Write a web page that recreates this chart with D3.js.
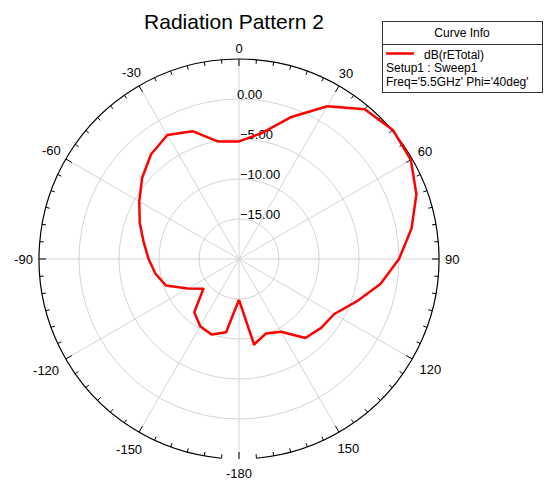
<!DOCTYPE html>
<html>
<head>
<meta charset="utf-8">
<script src="https://cdn.jsdelivr.net/npm/d3@7"></script>
<style>
  body { margin: 0; background: #fff; }
  text { font-family: "Liberation Sans", Arial, sans-serif; fill: #000; }
</style>
</head>
<body>
<script>
// data (theta in deg, gain in dB)
var thetaDeg = [-180, -170, -160, -150, -140, -130, -120, -110, -100, -90,
  -80, -70, -60, -50, -40, -30, -20, -10, 0, 10, 20, 30, 40, 50, 60, 70, 80,
  90, 100, 110, 120, 130, 140, 150, 160, 170, 180];
var gainDb = [-14.9, -10.7, -9.95, -10.3, -11.3, -14.2, -12.6, -10.3, -9.4, -8.7,
  -7.9, -6.8, -5.6, -4.2, -2.9, -2.1, -3.0, -5.1, -5.3, -4.05, -1.15, 2.05, 4.45, 5.1, 4.8, 3.6, 1.9,
  0.0, -2.05, -4.4, -6.25, -6.6, -7.1, -9.5, -10.1, -9.15, -14.9];

var angleTicks = [0, 30, 60, 90, 120, 150, 180, -150, -120, -90, -60, -30];
var angleLabels = ["0", "30", "60", "90", "120", "150", "-180", "-150", "-120", "-90", "-60", "-30"];
var radialTicks = [0, -5, -10, -15];
var legendLines = ["dB(rETotal)", "Setup1 : Sweep1", "Freq='5.5GHz' Phi='40deg'"];

var svgWidth = 544, svgHeight = 480;
var cx = 239, cy = 259, outerR = 200;

var svg = d3.select("body").append("svg")
    .attr("width", svgWidth)
    .attr("height", svgHeight);

// radius scale: -20 dB at centre, +5 dB on the rim
var rScale = d3.scaleLinear().domain([-20, 5]).range([0, outerR]);
var rad = d => d * Math.PI / 180;

var chart = svg.append("g").attr("transform", `translate(${cx}, ${cy})`);

// grid circles
chart.selectAll(".grid-circle")
    .data(radialTicks)
    .enter()
    .append("circle")
    .attr("r", d => rScale(d))
    .attr("fill", "none")
    .attr("stroke", "#d4d4d4")
    .attr("stroke-width", 1);

// spokes every 30 deg
chart.selectAll(".spoke")
    .data(angleTicks)
    .enter()
    .append("line")
    .attr("x1", 0).attr("y1", 0)
    .attr("x2", d => outerR * Math.sin(rad(d)))
    .attr("y2", d => -outerR * Math.cos(rad(d)))
    .attr("stroke", "#d4d4d4")
    .attr("stroke-width", 1);

// outer rim, open at the bottom
var rim = d3.arc()
    .innerRadius(outerR)
    .outerRadius(outerR)
    .startAngle(rad(-175))
    .endAngle(rad(175));
chart.append("path")
    .attr("d", rim())
    .attr("fill", "none")
    .attr("stroke", "#000")
    .attr("stroke-width", 1.2);

// rim ticks, every 5 deg, longer every 30
var rimTicks = d3.range(-175, 181, 5);
chart.selectAll(".rim-tick")
    .data(rimTicks)
    .enter()
    .append("line")
    .attr("x1", d => outerR * Math.sin(rad(d)))
    .attr("y1", d => -outerR * Math.cos(rad(d)))
    .attr("x2", d => (outerR - (d % 30 === 0 ? 7 : 4)) * Math.sin(rad(d)))
    .attr("y2", d => -(outerR - (d % 30 === 0 ? 7 : 4)) * Math.cos(rad(d)))
    .attr("stroke", "#000")
    .attr("stroke-width", 1);

// radial labels
chart.selectAll(".r-label")
    .data(radialTicks)
    .enter()
    .append("text")
    .attr("x", d => d < 0 ? 1 : -2)
    .attr("y", d => -rScale(d))
    .attr("font-size", 13)
    .text(d => d3.format(".2f")(d));

// angle labels
var angLabels = chart.selectAll(".a-label")
    .data(angleTicks)
    .enter()
    .append("text")
    .attr("font-size", 13)
    .attr("text-anchor", "middle")
    .attr("dy", "0.36em")
    .text((d, i) => angleLabels[i]);

angLabels.each(function(d) {
    var w = this.getComputedTextLength();
    var s = Math.sin(rad(d)), c = Math.cos(rad(d));
    var R = 206 + Math.abs(s) * w / 2 + Math.abs(c) * 5 + (c < -0.1 ? 3 : 0);
    d3.select(this).attr("x", R * s).attr("y", -R * c);
});

// the curve
var points = thetaDeg.map((t, i) => [rad(t), rScale(gainDb[i])]);
var line = d3.lineRadial()
    .angle(d => d[0])
    .radius(d => d[1]);

chart.append("path")
    .attr("d", line(points))
    .attr("fill", "none")
    .attr("stroke", "#ff0000")
    .attr("stroke-width", 2.5)
    .attr("stroke-linejoin", "round");

// title
svg.append("text")
    .attr("x", 234)
    .attr("y", 29)
    .attr("text-anchor", "middle")
    .attr("font-size", 21)
    .text("Radiation Pattern 2");

// legend box
var legend = svg.append("g").attr("transform", "translate(382, 21)");
legend.append("rect")
    .attr("x", 0.5).attr("y", 0.5)
    .attr("width", 160).attr("height", 71)
    .attr("fill", "#fff")
    .attr("stroke", "#333")
    .attr("stroke-width", 1);
legend.append("line")
    .attr("x1", 0.5).attr("x2", 160.5)
    .attr("y1", 23.5).attr("y2", 23.5)
    .attr("stroke", "#333");
legend.append("text")
    .attr("x", 80).attr("y", 16)
    .attr("text-anchor", "middle")
    .attr("font-size", 12)
    .text("Curve Info");
legend.append("line")
    .attr("x1", 4).attr("x2", 32)
    .attr("y1", 32.5).attr("y2", 32.5)
    .attr("stroke", "#ff0000")
    .attr("stroke-width", 2.5);
legend.selectAll(".leg-line")
    .data(legendLines)
    .enter()
    .append("text")
    .attr("x", (d, i) => i === 0 ? 42 : 4)
    .attr("y", (d, i) => 37.5 + i * 13.5)
    .attr("font-size", 12)
    .text(d => d);
</script>
</body>
</html>
